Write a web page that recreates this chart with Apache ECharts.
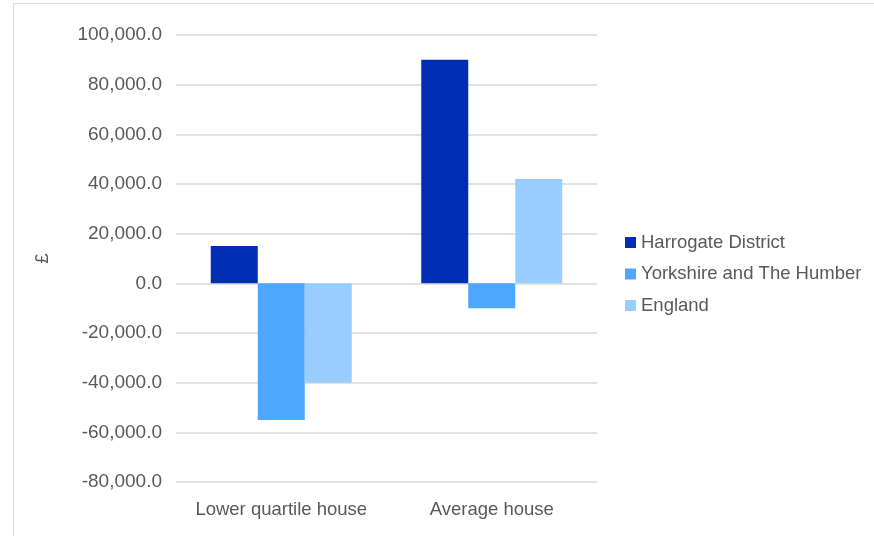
<!DOCTYPE html>
<html><head><meta charset="utf-8">
<script src="https://cdn.jsdelivr.net/npm/echarts@6/dist/echarts.min.js"></script>
<style>html,body{margin:0;padding:0;background:#fff;}#c{width:874px;height:536px;}</style>
</head><body><div id="c"></div>
<script>
const categories = ['Lower quartile house', 'Average house'];
const seriesNames = ['Harrogate District', 'Yorkshire and The Humber', 'England'];
const harrogate = [15000, 90000];
const yorkshire = [-55000, -10000];
const england = [-40000, 42000];
const colors = ['#002DB3', '#4DA6FF', '#99CCFF'];
const values = [harrogate, yorkshire, england];

const chart = echarts.init(document.getElementById('c'));
const font = 'Liberation Sans, Arial, sans-serif';
chart.setOption({
  animation: false,
  textStyle: { fontFamily: font },
  graphic: [{ type: 'rect', shape: { x: 13.5, y: 3.5, width: 900, height: 600 }, style: { fill: 'none', stroke: '#d9d9d9', lineWidth: 1 }, silent: true }],
  grid: { left: 176, right: 277, top: 35, bottom: 54 },
  legend: {
    orient: 'vertical', left: 620, top: 228, itemWidth: 11, itemHeight: 11, itemGap: 12.5,
    icon: 'rect',
    textStyle: { fontSize: 18.5, color: '#595959', fontFamily: font },
    data: seriesNames
  },
  xAxis: {
    type: 'category', data: categories,
    axisLine: { show: false }, axisTick: { show: false },
    axisLabel: { interval: 0, fontSize: 18.5, color: '#595959', margin: 18, fontFamily: font }
  },
  yAxis: {
    type: 'value', min: -80000, max: 100000, interval: 20000,
    name: '£', nameLocation: 'middle', nameRotate: 90, nameGap: 124,
    nameTextStyle: { fontSize: 18, color: '#595959', fontFamily: font },
    axisLine: { show: false }, axisTick: { show: false },
    splitLine: { lineStyle: { color: '#d9d9d9', width: 1.5 } },
    axisLabel: { fontSize: 19, color: '#595959', margin: 14, fontFamily: font,
      formatter: v => v.toLocaleString('en-US', { minimumFractionDigits: 1, maximumFractionDigits: 1 }) }
  },
  series: seriesNames.map((n, i) => ({
    name: n, type: 'bar', data: values[i], barWidth: 47, barGap: '0%',
    itemStyle: { color: colors[i] }
  }))
});
</script></body></html>
